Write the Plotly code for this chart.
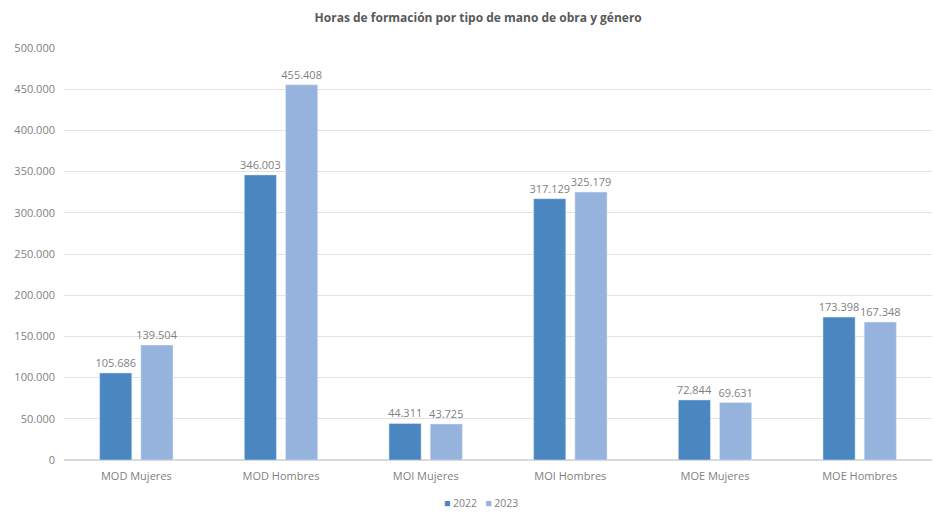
import plotly.graph_objects as go

categories = ["MOD Mujeres", "MOD Hombres", "MOI Mujeres", "MOI Hombres", "MOE Mujeres", "MOE Hombres"]
values_2022 = [105686, 346003, 44311, 317129, 72844, 173398]
values_2023 = [139504, 455408, 43725, 325179, 69631, 167348]
series_names = ["2022", "2023"]
series_colors = ["#4a86c0", "#95b3dd"]
y_ticks = [0, 50000, 100000, 150000, 200000, 250000, 300000, 350000, 400000, 450000, 500000]

font_fam = "Open Sans, Liberation Sans, sans-serif"
label_col = "#7f7f7f"

fig = go.Figure()
for name, vals, col in zip(series_names, [values_2022, values_2023], series_colors):
    fig.add_trace(go.Bar(
        name=name, x=categories, y=vals,
        marker_color=col,
        texttemplate="%{y:,}", textposition="outside",
        textfont=dict(size=11, color=label_col, family=font_fam),
        cliponaxis=False, showlegend=False,
    ))

legend_text = "   ".join(
    f"<span style='color:{c}'>■</span> {n}" for n, c in zip(series_names, series_colors)
)
plot_h = 513 - 48 - 53
fig.add_annotation(text=legend_text, xref="paper", yref="paper",
                   x=(481 - 64) / 868, xanchor="center", y=-(503 - 460) / plot_h, yanchor="middle",
                   showarrow=False, font=dict(size=10.5, color=label_col, family=font_fam))

fig.update_layout(
    width=934, height=513,
    separators=",.",
    paper_bgcolor="white", plot_bgcolor="white",
    margin=dict(l=64, r=2, t=48, b=53, autoexpand=False),
    barmode="group", bargap=0.43, bargroupgap=0.22,
    title=dict(text="<b>Horas de formación por tipo de mano de obra y género</b>",
               x=0.512, xanchor="center", y=0.965, yanchor="middle",
               font=dict(size=12, color="#595959", family=font_fam)),
    font=dict(family=font_fam, size=11, color=label_col),
    uniformtext=dict(minsize=11, mode="show"),
)
fig.update_yaxes(range=[0, 500000], tickvals=y_ticks, tickformat=",",
                 showgrid=True, gridcolor="#e3e3e3", gridwidth=1,
                 zeroline=True, zerolinecolor="#d9d9d9",
                 showline=False, ticks="", ticklabelstandoff=8,
                 tickfont=dict(size=11, color=label_col), automargin=False)
fig.update_xaxes(showline=False, ticks="", ticklabelstandoff=8, automargin=False,
                 tickfont=dict(size=11, color=label_col))

fig.write_html("out.html")
